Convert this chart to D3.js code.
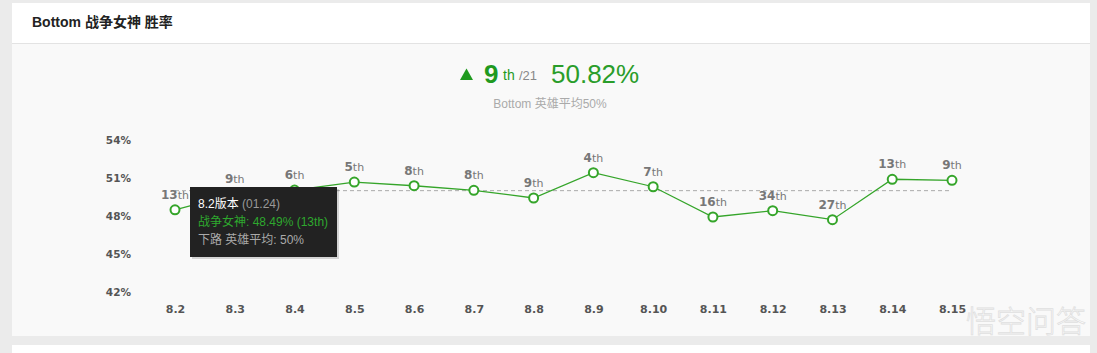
<!DOCTYPE html>
<html lang="zh">
<head>
<meta charset="UTF-8">
<title>Bottom 战争女神 胜率</title>
<style>
  body { margin: 0; background: #ebebeb; font-family: "Liberation Sans", "Noto Sans CJK SC", sans-serif; }
</style>
</head>
<body>
<div id="graph"></div>
<script src="https://d3js.org/d3.v7.min.js"></script>
<script>
// data
const versions = ["8.2", "8.3", "8.4", "8.5", "8.6", "8.7", "8.8", "8.9", "8.10", "8.11", "8.12", "8.13", "8.14", "8.15"];
const winRates = [48.49, 49.75, 50.05, 50.68, 50.39, 50.03, 49.42, 51.42, 50.31, 47.92, 48.42, 47.71, 50.9, 50.82];
const ranks = [13, 9, 6, 5, 8, 8, 9, 4, 7, 16, 34, 27, 13, 9];
const yTicks = [42, 45, 48, 51, 54];
const average = 50;

const W = 1097, H = 353;
const GREEN = "#35a52a";

const svg = d3.select("#graph").append("svg")
  .attr("width", W).attr("height", H)
  .style("display", "block");

// panels
svg.append("rect").attr("x", 12).attr("y", 3).attr("width", 1078).attr("height", 333).attr("fill", "#f9f9f9");
svg.append("rect").attr("x", 12).attr("y", 3).attr("width", 1078).attr("height", 40).attr("fill", "#fff");
svg.append("line").attr("x1", 12).attr("x2", 1090).attr("y1", 43.5).attr("y2", 43.5).attr("stroke", "#e3e3e3");
svg.append("rect").attr("x", 12).attr("y", 345).attr("width", 1078).attr("height", 10).attr("fill", "#fff");

svg.append("text").attr("x", 32).attr("y", 27)
  .attr("font-size", 14).attr("font-weight", "bold").attr("fill", "#222")
  .text("Bottom 战争女神 胜率");

// summary
svg.append("path").attr("d", "M460,80 L466.5,68.5 L473,80 Z").attr("fill", "#1f9a1f");
svg.append("text").attr("x", 484).attr("y", 83).attr("font-size", 26).attr("font-weight", "bold").attr("fill", "#1f9a1f").text("9");
svg.append("text").attr("x", 503).attr("y", 80).attr("font-size", 14).attr("fill", "#1f9a1f").text("th");
svg.append("text").attr("x", 519).attr("y", 80).attr("font-size", 13).attr("fill", "#888").text("/21");
svg.append("text").attr("x", 551).attr("y", 83).attr("font-size", 26).attr("fill", "#2a9d2a").text("50.82%");
svg.append("text").attr("x", 550).attr("y", 108).attr("text-anchor", "middle")
  .attr("font-size", 12).attr("fill", "#aaa").text("Bottom 英雄平均50%");

// scales
const x = d3.scalePoint().domain(versions).range([175, 952]);
const y = d3.scaleLinear().domain([42, 54]).range([292, 140]);

const xAxis = svg.append("g").attr("transform", "translate(0,301)")
  .call(d3.axisBottom(x).tickSize(0).tickPadding(4));
xAxis.select(".domain").remove();
xAxis.selectAll("text").attr("font-family", "DejaVu Sans").attr("font-size", 11)
  .attr("font-weight", "bold").attr("fill", "#555");

const yAxis = svg.append("g").attr("transform", "translate(131,0)")
  .call(d3.axisLeft(y).tickValues(yTicks).tickFormat(d => d + "%").tickSize(0).tickPadding(0));
yAxis.select(".domain").remove();
yAxis.selectAll("text").attr("font-family", "DejaVu Sans").attr("font-size", 10.5)
  .attr("font-weight", "bold").attr("fill", "#555");

// average line
svg.append("line")
  .attr("x1", x(versions[0])).attr("x2", x(versions[versions.length - 1]))
  .attr("y1", y(average)).attr("y2", y(average))
  .attr("stroke", "#aaa").attr("stroke-dasharray", "4,3");

const pts = versions.map((v, i) => ({ v, r: winRates[i], rank: ranks[i] }));

svg.append("path").datum(pts)
  .attr("fill", "none").attr("stroke", GREEN).attr("stroke-width", 1.3)
  .attr("d", d3.line().x(d => x(d.v)).y(d => y(d.r)));

svg.selectAll("circle.pt").data(pts).enter().append("circle")
  .attr("class", "pt")
  .attr("cx", d => x(d.v)).attr("cy", d => y(d.r)).attr("r", 4.5)
  .attr("fill", "#fff").attr("stroke", GREEN).attr("stroke-width", 2);

const lbl = svg.selectAll("text.rank").data(pts).enter().append("text")
  .attr("class", "rank")
  .attr("x", d => x(d.v)).attr("y", d => y(d.r) - 11)
  .attr("text-anchor", "middle").attr("fill", "#777")
  .attr("font-family", "DejaVu Sans").attr("font-weight", "bold");
lbl.append("tspan").attr("font-size", 12).text(d => d.rank);
lbl.append("tspan").attr("font-size", 11).attr("font-weight", "normal").text("th");

// tooltip for 8.2
const tip = svg.append("g").attr("transform", "translate(190,187)");
tip.append("rect").attr("x", 2).attr("y", 2).attr("width", 147).attr("height", 70).attr("fill", "rgba(0,0,0,0.15)");
tip.append("rect").attr("width", 147).attr("height", 70).attr("fill", "#222");
const t1 = tip.append("text").attr("x", 8).attr("y", 21).attr("font-size", 12);
t1.append("tspan").attr("fill", "#fff").text(versions[0] + "版本");
t1.append("tspan").attr("fill", "#999").text(" (01.24)");
tip.append("text").attr("x", 8).attr("y", 39).attr("font-size", 12).attr("fill", "#2ea82e")
  .text(`战争女神: ${winRates[0]}% (${ranks[0]}th)`);
tip.append("text").attr("x", 8).attr("y", 57).attr("font-size", 12).attr("fill", "#aaa")
  .text(`下路 英雄平均: ${average}%`);

// watermark
svg.append("text").attr("x", 966).attr("y", 332).attr("font-size", 30)
  .attr("font-family", "Noto Sans CJK SC").attr("font-weight", 300)
  .attr("fill", "#fff").attr("stroke", "#ddd").attr("stroke-width", 0.8)
  .attr("opacity", 0.9).text("悟空问答");
</script>
</body>
</html>
